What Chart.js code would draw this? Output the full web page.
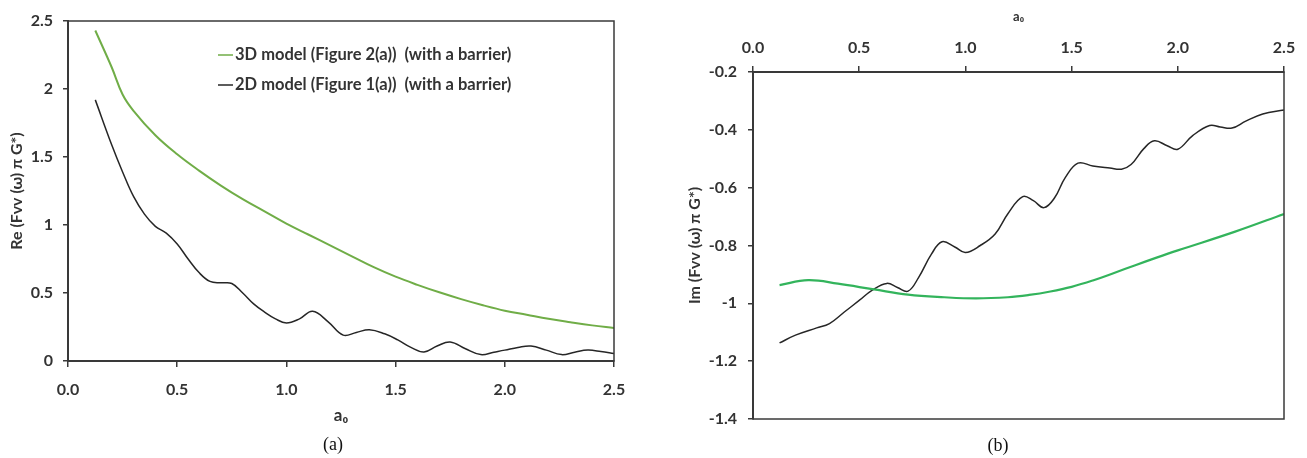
<!DOCTYPE html>
<html>
<head>
<meta charset="utf-8">
<script src="https://cdn.jsdelivr.net/npm/chart.js@4.4.0/dist/chart.umd.min.js"></script>
<style>
body{margin:0;background:#fff;width:1307px;height:458px;position:relative;overflow:hidden}
canvas{position:absolute;top:0}
#reChart{left:0}
#imChart{left:680px}
.cap{position:absolute;font-family:"Liberation Serif",serif;font-size:18px;color:#111;transform:translate(-50%,-50%)}
</style>
</head>
<body>
<canvas id="reChart" width="640" height="458"></canvas>
<canvas id="imChart" width="627" height="458"></canvas>
<div class="cap" style="left:333px;top:444px">(a)</div>
<div class="cap" style="left:998px;top:445px">(b)</div>
<script>
// ===== DATA (a): real part =====
let reX3D=[0.125,0.2,0.25,0.3,0.4,0.5,0.6,0.7,0.8,0.9,1.0,1.1,1.2,1.3,1.4,1.5,1.6,1.7,1.8,1.9,2.0,2.1,2.2,2.3,2.4,2.5]
let re3D=[2.43,2.16,1.96,1.84,1.66,1.52,1.40,1.29,1.19,1.10,1.01,0.93,0.85,0.77,0.69,0.62,0.56,0.505,0.455,0.41,0.37,0.34,0.31,0.285,0.262,0.243]

let reX2D=[0.125,0.2,0.25,0.3,0.35,0.4,0.45,0.5,0.55,0.6,0.65,0.7,0.75,0.8,0.85,0.9,0.95,1.0,1.06,1.12,1.19,1.26,1.32,1.38,1.45,1.51,1.57,1.63,1.69,1.75,1.82,1.89,1.95,2.0,2.06,2.12,2.19,2.26,2.32,2.38,2.44,2.5]
let re2D=[1.92,1.59,1.39,1.21,1.08,0.99,0.94,0.86,0.75,0.65,0.585,0.575,0.57,0.50,0.42,0.36,0.31,0.28,0.31,0.365,0.29,0.19,0.21,0.23,0.20,0.155,0.10,0.066,0.11,0.14,0.09,0.047,0.065,0.08,0.10,0.11,0.08,0.047,0.065,0.08,0.07,0.055]

// ===== DATA (b): imaginary part =====
let imX3D=[0.125,0.26,0.4,0.57,0.73,0.9,1.05,1.2,1.3,1.4,1.5,1.6,1.7,1.8,1.9,2.0,2.27,2.5]
let im3D=[-0.937,-0.920,-0.932,-0.952,-0.970,-0.979,-0.983,-0.979,-0.971,-0.959,-0.943,-0.921,-0.895,-0.868,-0.842,-0.817,-0.752,-0.691]

let imX2D=[0.125,0.2,0.3,0.36,0.43,0.5,0.56,0.63,0.68,0.73,0.78,0.84,0.89,0.95,1.0,1.07,1.14,1.2,1.27,1.32,1.37,1.42,1.47,1.53,1.6,1.68,1.735,1.78,1.84,1.89,1.95,2.0,2.07,2.15,2.2,2.255,2.32,2.4,2.5]
let im2D=[-1.137,-1.11,-1.085,-1.07,-1.03,-0.99,-0.955,-0.931,-0.945,-0.958,-0.91,-0.83,-0.787,-0.805,-0.824,-0.80,-0.76,-0.69,-0.631,-0.645,-0.669,-0.635,-0.565,-0.515,-0.525,-0.532,-0.536,-0.52,-0.465,-0.438,-0.455,-0.467,-0.42,-0.385,-0.39,-0.394,-0.37,-0.345,-0.331]

let labels3D="3D model (Figure 2(a))  (with a barrier)"
let labels2D="2D model (Figure 1(a))  (with a barrier)"

const AXIS='#3a3a3a'
const TXT='#333'
const tickFont={family:'Lato',size:16,weight:'bold'}

function pts(xs,ys){ return xs.map((x,i)=>({x:x,y:ys[i]})) }

// box around the plot area
const framePlugin={
    id:'frame',
    afterDraw(chart){
        let a=chart.chartArea, ctx=chart.ctx
        ctx.save()
        ctx.strokeStyle=AXIS
        ctx.lineWidth=1.5
        ctx.strokeRect(a.left,a.top,a.right-a.left,a.bottom-a.top)
        ctx.restore()
    }
}

// legend inside the plot for chart (a)
const innerLegend={
    id:'innerLegend',
    afterDraw(chart,args,opts){
        if(!opts.show) return
        let a=chart.chartArea, ctx=chart.ctx
        ctx.save()
        ctx.font='bold 16.5px Lato'
        ctx.textBaseline='middle'
        ctx.fillStyle=TXT
        chart.data.datasets.forEach((ds,i)=>{
            let y=a.top+34+i*30
            let x=a.left+150
            ctx.strokeStyle=ds.borderColor
            ctx.lineWidth=1.5
            ctx.beginPath(); ctx.moveTo(x,y); ctx.lineTo(x+15,y); ctx.stroke()
            ctx.fillText(ds.label,x+17,y)
        })
        ctx.restore()
    }
}

function xAxis(pos,fitH,title){
    return {
        type:'linear',position:pos,min:0,max:2.5,
        afterFit(s){ s.height=fitH },
        ticks:{stepSize:0.5,color:TXT,font:tickFont,padding:pos=='top'?9:13,maxRotation:0,
            callback:v=>v.toFixed(1)},
        grid:{drawOnChartArea:false,drawTicks:true,tickLength:6,color:AXIS,lineWidth:1.5},
        border:{color:AXIS,width:2},
        title:title
    }
}

function yAxis(min,max,step,fitW,pad,titleText,titlePad){
    return {
        type:'linear',min:min,max:max,
        afterFit(s){ s.width=fitW },
        ticks:{stepSize:step,color:TXT,font:tickFont,padding:pad,
            callback:v=>String(Math.round(v*10)/10)},
        grid:{drawOnChartArea:false,drawTicks:true,tickLength:5,color:AXIS,lineWidth:1.5},
        border:{color:AXIS,width:2},
        title:{display:true,text:titleText,color:TXT,font:{family:'Lato',size:16,weight:'bold'},padding:{top:titlePad,bottom:0}}
    }
}

// ===== CHART (a) =====
let reChart=new Chart(document.getElementById('reChart'),{
    type:'line',
    data:{
        datasets:[{
            label:labels3D,
            data:pts(reX3D,re3D),
            borderColor:'#70AD47',
            borderWidth:2,
            pointRadius:0,
            tension:0.4
        },{
            label:labels2D,
            data:pts(reX2D,re2D),
            borderColor:'#262626',
            borderWidth:1.5,
            pointRadius:0,
            tension:0.4
        }]
    },
    options:{
        responsive:false,
        animation:false,
        layout:{padding:{left:0,top:21,right:26,bottom:0}},
        plugins:{legend:{display:false},tooltip:{enabled:false},innerLegend:{show:true}},
        scales:{
            x:xAxis('bottom',97,{display:true,text:'a₀',color:TXT,font:{family:'Lato',size:17,weight:'bold'},padding:{top:0,bottom:32}}),
            y:yAxis(0,2.5,0.5,68,10,'Re (Fvv (ω) π G*)',7)
        }
    },
    plugins:[framePlugin,innerLegend]
})

// ===== CHART (b) =====
let imChart=new Chart(document.getElementById('imChart'),{
    type:'line',
    data:{
        datasets:[{
            label:labels3D,
            data:pts(imX3D,im3D),
            borderColor:'#33B45C',
            borderWidth:2.2,
            pointRadius:0,
            tension:0.4
        },{
            label:labels2D,
            data:pts(imX2D,im2D),
            borderColor:'#262626',
            borderWidth:1.5,
            pointRadius:0,
            tension:0.4
        }]
    },
    options:{
        responsive:false,
        animation:false,
        layout:{padding:{left:0,top:0,right:23,bottom:39}},
        plugins:{legend:{display:false},tooltip:{enabled:false},innerLegend:{show:false}},
        scales:{
            x:xAxis('top',72,{display:true,text:'a₀',color:TXT,font:{family:'Lato',size:13,weight:'bold'},padding:{top:9,bottom:0}}),
            y:yAxis(-1.4,-0.2,0.2,73,11,'Im (Fvv (ω) π G*)',5)
        }
    },
    plugins:[framePlugin,innerLegend]
})
</script>
</body>
</html>
